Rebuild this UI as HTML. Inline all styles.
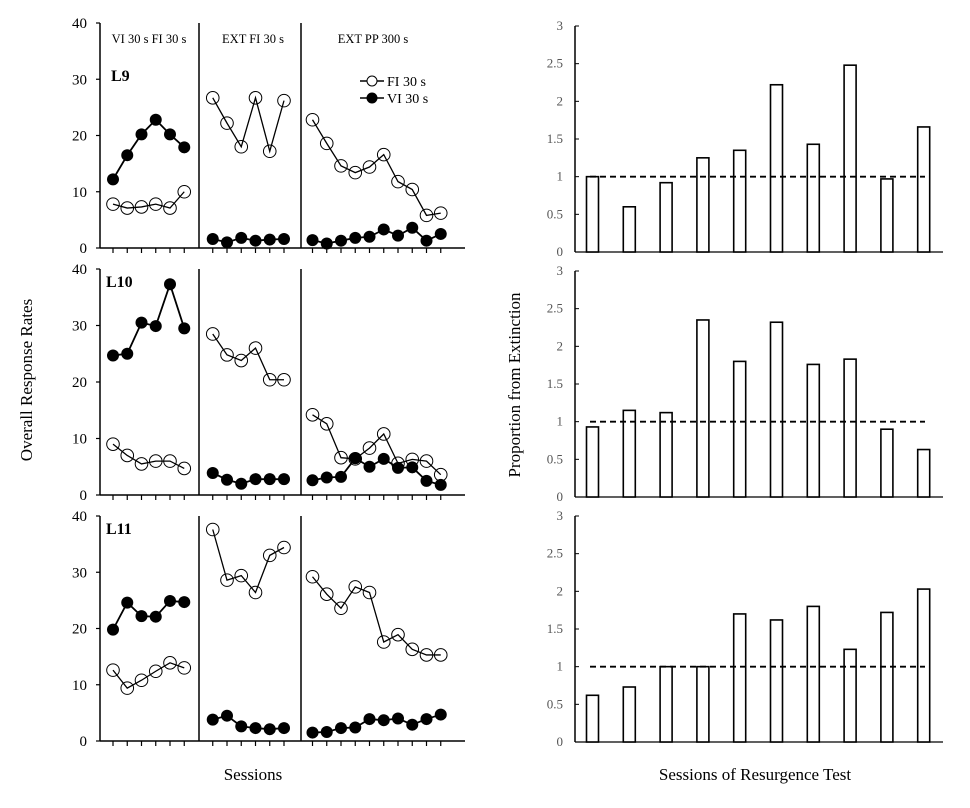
<!DOCTYPE html>
<html><head><meta charset="utf-8"><style>
html,body{margin:0;padding:0;background:#fff;}
svg{display:block;font-family:"Liberation Serif",serif;}
</style></head><body>
<svg id="c" width="970" height="808" viewBox="0 0 970 808" xmlns="http://www.w3.org/2000/svg">
<text x="32" y="380" transform="rotate(-90 32 380)" text-anchor="middle" font-size="17">Overall Response Rates</text>
<text x="253" y="780" text-anchor="middle" font-size="17">Sessions</text>
<text x="520" y="385" transform="rotate(-90 520 385)" text-anchor="middle" font-size="17">Proportion from Extinction</text>
<text x="755" y="780" text-anchor="middle" font-size="17">Sessions of Resurgence Test</text>
</svg>
<script>
const subjects = ["L9","L10","L11"];
const phaseLabels = ["VI 30 s FI 30 s","EXT FI 30 s","EXT PP 300 s"];
const fiL9 = [7.8,7.1,7.3,7.8,7.1,10, 26.7,22.2,18,26.7,17.2,26.2, 22.8,18.6,14.6,13.4,14.4,16.6,11.8,10.4,5.8,6.2];
const viL9 = [12.2,16.5,20.2,22.8,20.2,17.9, 1.6,1,1.8,1.3,1.5,1.6, 1.4,0.8,1.3,1.8,2,3.3,2.2,3.6,1.3,2.5];
const fiL10 = [9.0,7.0,5.5,6.0,6.0,4.7, 28.5,24.8,23.8,26,20.4,20.4, 14.2,12.6,6.6,6.4,8.3,10.8,5.6,6.3,6.0,3.6];
const viL10 = [24.7,25,30.5,29.9,37.3,29.5, 3.9,2.7,2,2.8,2.8,2.8, 2.6,3.1,3.2,6.5,5.0,6.4,4.8,4.9,2.5,1.8];
const fiL11 = [12.6,9.4,10.8,12.4,13.9,13, 37.6,28.6,29.4,26.4,33,34.4, 29.2,26.1,23.6,27.4,26.4,17.6,18.9,16.3,15.3,15.3];
const viL11 = [19.8,24.6,22.2,22.1,24.9,24.7, 3.8,4.5,2.6,2.3,2.1,2.3, 1.5,1.6,2.3,2.4,3.9,3.7,4,2.9,3.9,4.7];
const propL9 = [1.0,0.6,0.92,1.25,1.35,2.22,1.43,2.48,0.97,1.66];
const propL10 = [0.93,1.15,1.12,2.35,1.8,2.32,1.76,1.83,0.9,0.63];
const propL11 = [0.62,0.73,1.0,1.0,1.7,1.62,1.8,1.23,1.72,2.03];
const leftTicks = [0,10,20,30,40];
const rightTicks = ["0","0.5","1","1.5","2","2.5","3"];

const fiAll=[fiL9,fiL10,fiL11], viAll=[viL9,viL10,viL11], propAll=[propL9,propL10,propL11];
const NS="http://www.w3.org/2000/svg";
const svg=document.getElementById("c");
function mk(tag,attrs,parent){const e=document.createElementNS(NS,tag);for(const k in attrs)e.setAttribute(k,attrs[k]);(parent||svg).appendChild(e);return e;}
const panelTop=[23,269,516], panelBot=[248,495,741];
const rTop=[26,271,516], rBot=[252,497,742];
function sx(i){const k=i<6?i:(i<12?i+1:i+2);return 113+14.25*k;}
for(let p=0;p<3;p++){
  const g=mk("g",{});
  
  
  const top=panelTop[p],bot=panelBot[p];
  const y=v=>bot-(v/40)*(bot-top);
  mk("line",{x1:100,y1:top,x2:100,y2:bot,stroke:"#000","stroke-width":1.5},g);
  mk("line",{x1:100,y1:bot,x2:465,y2:bot,stroke:"#000","stroke-width":1.5},g);
  leftTicks.forEach(t=>{
    mk("line",{x1:96,y1:y(t),x2:100,y2:y(t),stroke:"#000","stroke-width":1.2},g);
    const tx=mk("text",{x:87,y:y(t)+5,"text-anchor":"end","font-size":15},g);tx.textContent=t;
    
    
  });
  for(let i=0;i<22;i++){mk("line",{x1:sx(i),y1:bot,x2:sx(i),y2:bot+5,stroke:"#000","stroke-width":1.2},g);}
  [199,301].forEach(dx=>mk("line",{x1:dx,y1:top,x2:dx,y2:bot,stroke:"#000","stroke-width":1.5},g));
  const lab=mk("text",{x:p==0?111:106,y:top+(p==0?58:18),"font-size":16,"font-weight":"bold"},g);lab.textContent=subjects[p];
  
  
  if(p==0){
    [[149,phaseLabels[0]],[253,phaseLabels[1]],[373,phaseLabels[2]]].forEach(([x,t])=>{
      const e=mk("text",{x:x,y:43,"text-anchor":"middle","font-size":12.5},g);e.textContent=t;
      
      
    });
    mk("line",{x1:360,y1:81,x2:384,y2:81,stroke:"#000","stroke-width":1.5},g);
    mk("circle",{cx:372,cy:81,r:5,fill:"#fff",stroke:"#000","stroke-width":1},g);
    let e=mk("text",{x:387,y:86,"font-size":14},g);e.textContent="FI 30 s";
    
    
    mk("line",{x1:360,y1:98,x2:384,y2:98,stroke:"#000","stroke-width":1.5},g);
    mk("circle",{cx:372,cy:98,r:5.5,fill:"#000"},g);
    e=mk("text",{x:387,y:103,"font-size":14},g);e.textContent="VI 30 s";
    
    
  }
  [[viAll[p],true],[fiAll[p],false]].forEach(([arr,filled])=>{
    [[0,6],[6,12],[12,22]].forEach(([a,b])=>{
      let d="";for(let i=a;i<b;i++)d+=(i==a?"M":"L")+sx(i)+" "+y(arr[i]);
      const l=mk("path",{d:d,fill:"none",stroke:"#000","stroke-width":filled?1.8:1.3},g);
      
      
    });
  });
  [[viAll[p],true],[fiAll[p],false]].forEach(([arr,filled])=>{
    for(let i=0;i<22;i++){
      const c=mk("circle",{cx:sx(i),cy:y(arr[i]),r:filled?6:6.3,fill:filled?"#000":"#fff","fill-opacity":filled?1:0,stroke:"#000","stroke-width":filled?0:1},g);
      
      
    }
  });
  const rg=mk("g",{});
  
  
  const rt=rTop[p],rb=rBot[p];
  const ry=v=>rb-(v/3)*(rb-rt);
  mk("line",{x1:575,y1:rt,x2:575,y2:rb,stroke:"#000","stroke-width":1.5},rg);
  mk("line",{x1:575,y1:rb,x2:943,y2:rb,stroke:"#000","stroke-width":1.2},rg);
  rightTicks.forEach(t=>{
    const v=parseFloat(t);
    mk("line",{x1:575,y1:ry(v),x2:579,y2:ry(v),stroke:"#000","stroke-width":1},rg);
    const tx=mk("text",{x:563,y:ry(v)+4,"text-anchor":"end","font-size":13,fill:"#555"},rg);tx.textContent=t;
    
    
  });
  propAll[p].forEach((v,i)=>{
    const x=586.5+36.8*i;
    const r=mk("rect",{x:x,y:ry(v),width:12,height:rb-ry(v),fill:"#fff",stroke:"#000","stroke-width":1.6},rg);
    
    
  });
  const dl=mk("line",{x1:590,y1:ry(1),x2:925,y2:ry(1),stroke:"#000","stroke-width":1.8,"stroke-dasharray":"6,4"},rg);
  
  
}
</script>
</body></html>
